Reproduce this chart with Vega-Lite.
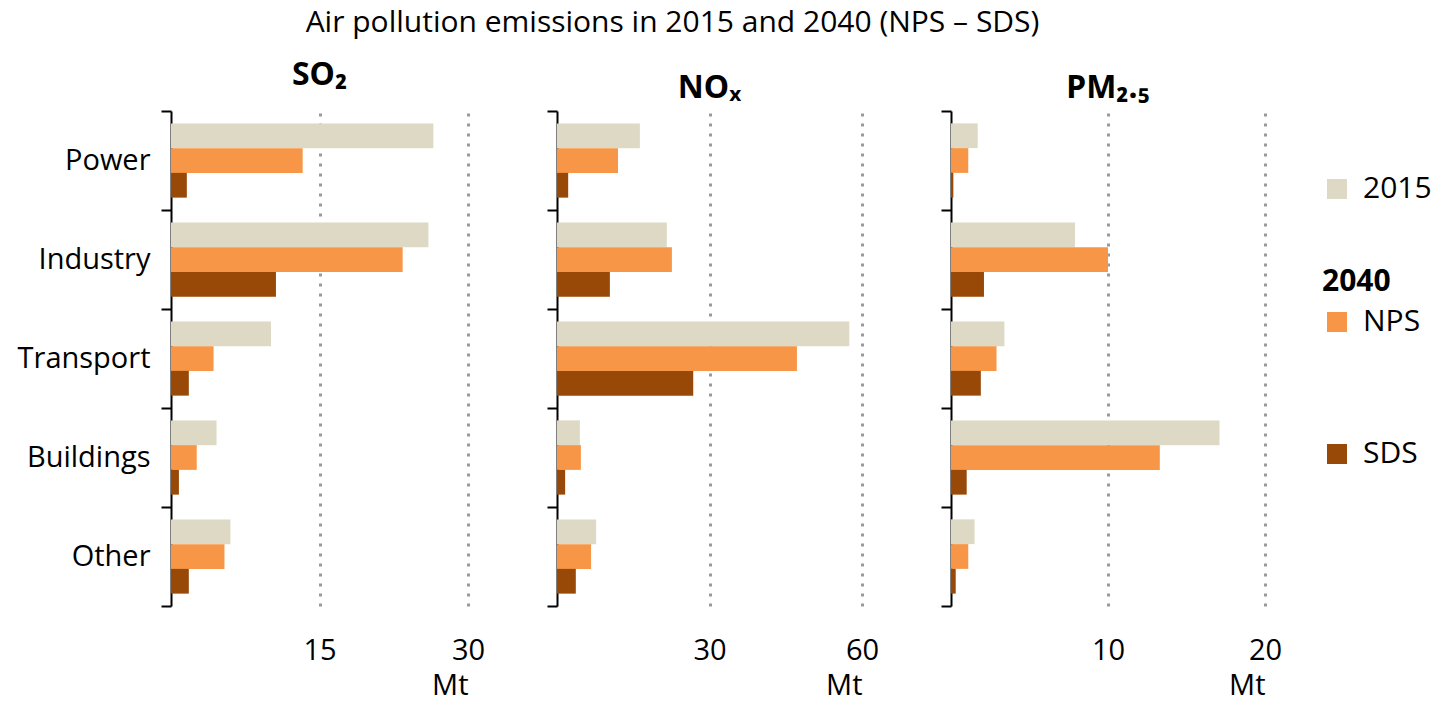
{
  "$schema": "https://vega.github.io/schema/vega-lite/v6.json",
  "background": "white",
  "padding": {"left": 17, "top": 8, "right": 5, "bottom": 3},
  "title": {"text": "Air pollution emissions in 2015 and 2040 (NPS – SDS)", "fontSize": 30, "font": "Open Sans", "fontWeight": "normal", "color": "black", "anchor": "middle", "offset": 21, "dx": -52},
  "config": {
    "font": "Open Sans",
    "view": {"stroke": null},
    "concat": {"spacing": 89},
    "title": {"fontSize": 32, "font": "Noto Sans", "fontWeight": "bold", "color": "black", "offset": 5},
    "legend": {"labelFontSize": 30, "labelColor": "black", "titleFontSize": 30, "titleColor": "black", "titleFontWeight": "bold", "symbolType": "square", "symbolSize": 400, "symbolStrokeWidth": 0, "labelOffset": 11, "offset": 40, "layout": {"right": {"margin": 63, "anchor": "start", "direction": "vertical"}}}
  },
  "bounds": "flush",
  "data": {"values": [
    {"pollutant": "SO2", "sector": "Power", "series": "2015", "value": 26.5},
    {"pollutant": "SO2", "sector": "Power", "series": "NPS", "value": 13.3},
    {"pollutant": "SO2", "sector": "Power", "series": "SDS", "value": 1.6},
    {"pollutant": "SO2", "sector": "Industry", "series": "2015", "value": 26.0},
    {"pollutant": "SO2", "sector": "Industry", "series": "NPS", "value": 23.4},
    {"pollutant": "SO2", "sector": "Industry", "series": "SDS", "value": 10.6},
    {"pollutant": "SO2", "sector": "Transport", "series": "2015", "value": 10.1},
    {"pollutant": "SO2", "sector": "Transport", "series": "NPS", "value": 4.3},
    {"pollutant": "SO2", "sector": "Transport", "series": "SDS", "value": 1.8},
    {"pollutant": "SO2", "sector": "Buildings", "series": "2015", "value": 4.6},
    {"pollutant": "SO2", "sector": "Buildings", "series": "NPS", "value": 2.6},
    {"pollutant": "SO2", "sector": "Buildings", "series": "SDS", "value": 0.8},
    {"pollutant": "SO2", "sector": "Other", "series": "2015", "value": 6.0},
    {"pollutant": "SO2", "sector": "Other", "series": "NPS", "value": 5.4},
    {"pollutant": "SO2", "sector": "Other", "series": "SDS", "value": 1.8},
    {"pollutant": "NOx", "sector": "Power", "series": "2015", "value": 16.3},
    {"pollutant": "NOx", "sector": "Power", "series": "NPS", "value": 12.0},
    {"pollutant": "NOx", "sector": "Power", "series": "SDS", "value": 2.2},
    {"pollutant": "NOx", "sector": "Industry", "series": "2015", "value": 21.6},
    {"pollutant": "NOx", "sector": "Industry", "series": "NPS", "value": 22.6},
    {"pollutant": "NOx", "sector": "Industry", "series": "SDS", "value": 10.4},
    {"pollutant": "NOx", "sector": "Transport", "series": "2015", "value": 57.5},
    {"pollutant": "NOx", "sector": "Transport", "series": "NPS", "value": 47.2},
    {"pollutant": "NOx", "sector": "Transport", "series": "SDS", "value": 26.8},
    {"pollutant": "NOx", "sector": "Buildings", "series": "2015", "value": 4.5},
    {"pollutant": "NOx", "sector": "Buildings", "series": "NPS", "value": 4.7},
    {"pollutant": "NOx", "sector": "Buildings", "series": "SDS", "value": 1.6},
    {"pollutant": "NOx", "sector": "Other", "series": "2015", "value": 7.7},
    {"pollutant": "NOx", "sector": "Other", "series": "NPS", "value": 6.7},
    {"pollutant": "NOx", "sector": "Other", "series": "SDS", "value": 3.7},
    {"pollutant": "PM25", "sector": "Power", "series": "2015", "value": 1.7},
    {"pollutant": "PM25", "sector": "Power", "series": "NPS", "value": 1.1},
    {"pollutant": "PM25", "sector": "Power", "series": "SDS", "value": 0.15},
    {"pollutant": "PM25", "sector": "Industry", "series": "2015", "value": 7.9},
    {"pollutant": "PM25", "sector": "Industry", "series": "NPS", "value": 10.0},
    {"pollutant": "PM25", "sector": "Industry", "series": "SDS", "value": 2.1},
    {"pollutant": "PM25", "sector": "Transport", "series": "2015", "value": 3.4},
    {"pollutant": "PM25", "sector": "Transport", "series": "NPS", "value": 2.9},
    {"pollutant": "PM25", "sector": "Transport", "series": "SDS", "value": 1.9},
    {"pollutant": "PM25", "sector": "Buildings", "series": "2015", "value": 17.1},
    {"pollutant": "PM25", "sector": "Buildings", "series": "NPS", "value": 13.3},
    {"pollutant": "PM25", "sector": "Buildings", "series": "SDS", "value": 1.0},
    {"pollutant": "PM25", "sector": "Other", "series": "2015", "value": 1.5},
    {"pollutant": "PM25", "sector": "Other", "series": "NPS", "value": 1.1},
    {"pollutant": "PM25", "sector": "Other", "series": "SDS", "value": 0.3}
  ]},
  "hconcat": [
    {
      "width": 297, "height": 495,
      "title": "SO₂",
      "transform": [{"filter": "datum.pollutant === 'SO2'"}],
      "encoding": {
        "y": {"field": "sector", "type": "nominal", "sort": ["Power", "Industry", "Transport", "Buildings", "Other"], "scale": {"paddingInner": 0, "paddingOuter": 0}, "axis": {"title": null, "tickBand": "extent", "domainColor": "black", "domainWidth": 2, "tickColor": "black", "tickWidth": 2, "tickSize": 10, "labelFontSize": 29, "labelColor": "black", "labelPadding": 11, "grid": false}},
        "yOffset": {"field": "series", "type": "nominal", "scale": {"domain": ["2015", "NPS", "SDS"], "paddingInner": 0, "paddingOuter": 0.5}},
        "x": {"field": "value", "type": "quantitative", "scale": {"domain": [0, 30], "nice": false}, "axis": {"values": [15, 30], "grid": true, "gridDash": [3, 7], "gridWidth": 3, "gridColor": "#9a9a9a", "domain": false, "ticks": false, "labelFlush": false, "labelFontSize": 29, "labelColor": "black", "labelPadding": 30, "title": "Mt", "titleAnchor": "end", "titleFontSize": 29, "titleFontWeight": "normal", "titleColor": "black", "titlePadding": 6}}
      },
      "layer": [
        {"transform": [{"filter": "datum.series === '2015'"}], "mark": "bar", "encoding": {"color": {"field": "series", "type": "nominal", "scale": {"domain": ["2015"], "range": ["#DDD9C4"]}, "legend": {"title": " ", "titleFontSize": 30, "titlePadding": 33}}}},
        {"transform": [{"filter": "datum.series !== '2015'"}], "mark": "bar", "encoding": {"fill": {"field": "series", "type": "nominal", "scale": {"domain": ["NPS", "SDS"], "range": ["#F79646", "#984807"]}, "legend": {"title": "2040", "titlePadding": 10, "rowPadding": 102}}}}
      ]
    },
    {
      "width": 305, "height": 495,
      "title": "NOₓ",
      "transform": [{"filter": "datum.pollutant === 'NOx'"}],
      "encoding": {
        "y": {"field": "sector", "type": "nominal", "sort": ["Power", "Industry", "Transport", "Buildings", "Other"], "scale": {"paddingInner": 0, "paddingOuter": 0}, "axis": {"title": null, "labels": false, "tickBand": "extent", "domainColor": "black", "domainWidth": 2, "tickColor": "black", "tickWidth": 2, "tickSize": 10, "grid": false}},
        "yOffset": {"field": "series", "type": "nominal", "scale": {"domain": ["2015", "NPS", "SDS"], "paddingInner": 0, "paddingOuter": 0.5}},
        "x": {"field": "value", "type": "quantitative", "scale": {"domain": [0, 60], "nice": false}, "axis": {"values": [30, 60], "grid": true, "gridDash": [3, 7], "gridWidth": 3, "gridColor": "#9a9a9a", "domain": false, "ticks": false, "labelFlush": false, "labelFontSize": 29, "labelColor": "black", "labelPadding": 30, "title": "Mt", "titleAnchor": "end", "titleFontSize": 29, "titleFontWeight": "normal", "titleColor": "black", "titlePadding": 6}}
      },
      "layer": [
        {"transform": [{"filter": "datum.series === '2015'"}], "mark": "bar", "encoding": {"color": {"field": "series", "type": "nominal", "scale": {"domain": ["2015"], "range": ["#DDD9C4"]}, "legend": {"title": " ", "titleFontSize": 30, "titlePadding": 33}}}},
        {"transform": [{"filter": "datum.series !== '2015'"}], "mark": "bar", "encoding": {"fill": {"field": "series", "type": "nominal", "scale": {"domain": ["NPS", "SDS"], "range": ["#F79646", "#984807"]}, "legend": {"title": "2040", "titlePadding": 10, "rowPadding": 102}}}}
      ]
    },
    {
      "width": 314, "height": 495,
      "title": "PM₂.₅",
      "transform": [{"filter": "datum.pollutant === 'PM25'"}],
      "encoding": {
        "y": {"field": "sector", "type": "nominal", "sort": ["Power", "Industry", "Transport", "Buildings", "Other"], "scale": {"paddingInner": 0, "paddingOuter": 0}, "axis": {"title": null, "labels": false, "tickBand": "extent", "domainColor": "black", "domainWidth": 2, "tickColor": "black", "tickWidth": 2, "tickSize": 10, "grid": false}},
        "yOffset": {"field": "series", "type": "nominal", "scale": {"domain": ["2015", "NPS", "SDS"], "paddingInner": 0, "paddingOuter": 0.5}},
        "x": {"field": "value", "type": "quantitative", "scale": {"domain": [0, 20], "nice": false}, "axis": {"values": [10, 20], "grid": true, "gridDash": [3, 7], "gridWidth": 3, "gridColor": "#9a9a9a", "domain": false, "ticks": false, "labelFlush": false, "labelFontSize": 29, "labelColor": "black", "labelPadding": 30, "title": "Mt", "titleAnchor": "end", "titleFontSize": 29, "titleFontWeight": "normal", "titleColor": "black", "titlePadding": 6}}
      },
      "layer": [
        {"transform": [{"filter": "datum.series === '2015'"}], "mark": "bar", "encoding": {"color": {"field": "series", "type": "nominal", "scale": {"domain": ["2015"], "range": ["#DDD9C4"]}, "legend": {"title": " ", "titleFontSize": 30, "titlePadding": 33}}}},
        {"transform": [{"filter": "datum.series !== '2015'"}], "mark": "bar", "encoding": {"fill": {"field": "series", "type": "nominal", "scale": {"domain": ["NPS", "SDS"], "range": ["#F79646", "#984807"]}, "legend": {"title": "2040", "titlePadding": 10, "rowPadding": 102}}}}
      ]
    }
  ]
}
